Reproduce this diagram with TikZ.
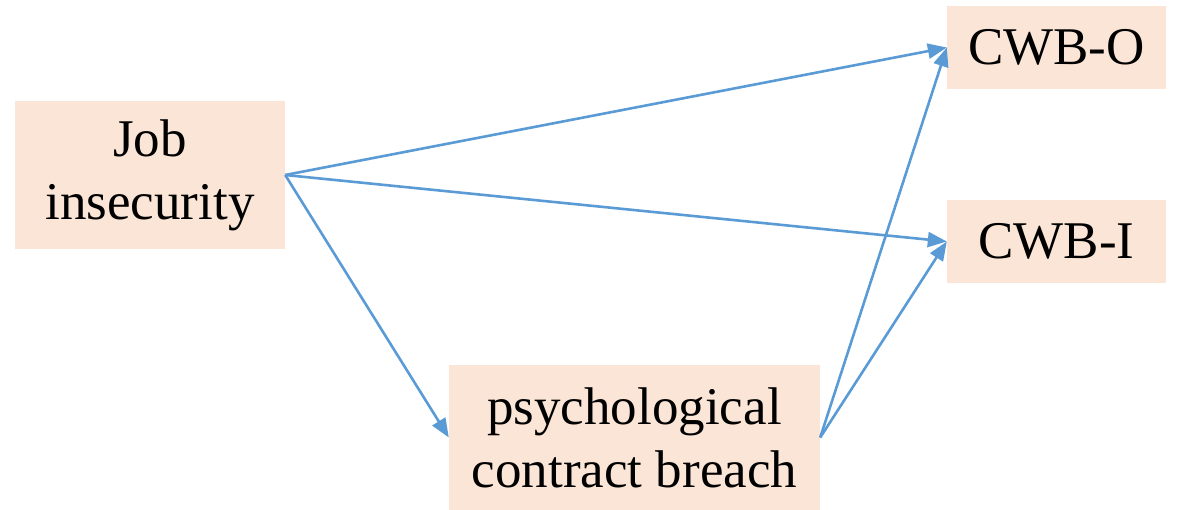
\documentclass[tikz,border=0pt]{standalone}
\usepackage{fontspec}
\setmainfont{Liberation Serif}
\usetikzlibrary{arrows.meta}
\definecolor{boxfill}{HTML}{FBE5D6}
\definecolor{arrowblue}{HTML}{5B9BD5}
\begin{document}
\begin{tikzpicture}[x=1pt,y=-1pt,
  box/.style={fill=boxfill, draw=none, inner sep=0pt, align=center,
    font=\fontsize{53}{63}\selectfont},
  link/.style={draw=arrowblue, line width=2.6pt,
    -{Triangle[length=19pt,width=15pt]}}]
\useasboundingbox (0,0) rectangle (1178,510);
\node[box, minimum width=270pt, minimum height=148pt] (job) at (150,175) {Job\\insecurity};
\node[box, minimum width=219pt, minimum height=83pt] (cwbo) at (1056.5,47.5) {CWB-O};
\node[box, minimum width=219pt, minimum height=83pt] (cwbi) at (1056.5,241.5) {CWB-I};
\node[box, minimum width=371pt, minimum height=145pt] (pcb) at (634.5,437.5) {psychological\\contract breach};
\draw[link] (job.east) -- (cwbo.west);
\draw[link] (job.east) -- (cwbi.west);
\draw[link] (job.east) -- (pcb.west);
\draw[link] (pcb.east) -- (cwbo.west);
\draw[link] (pcb.east) -- (cwbi.west);
\end{tikzpicture}
\end{document}
